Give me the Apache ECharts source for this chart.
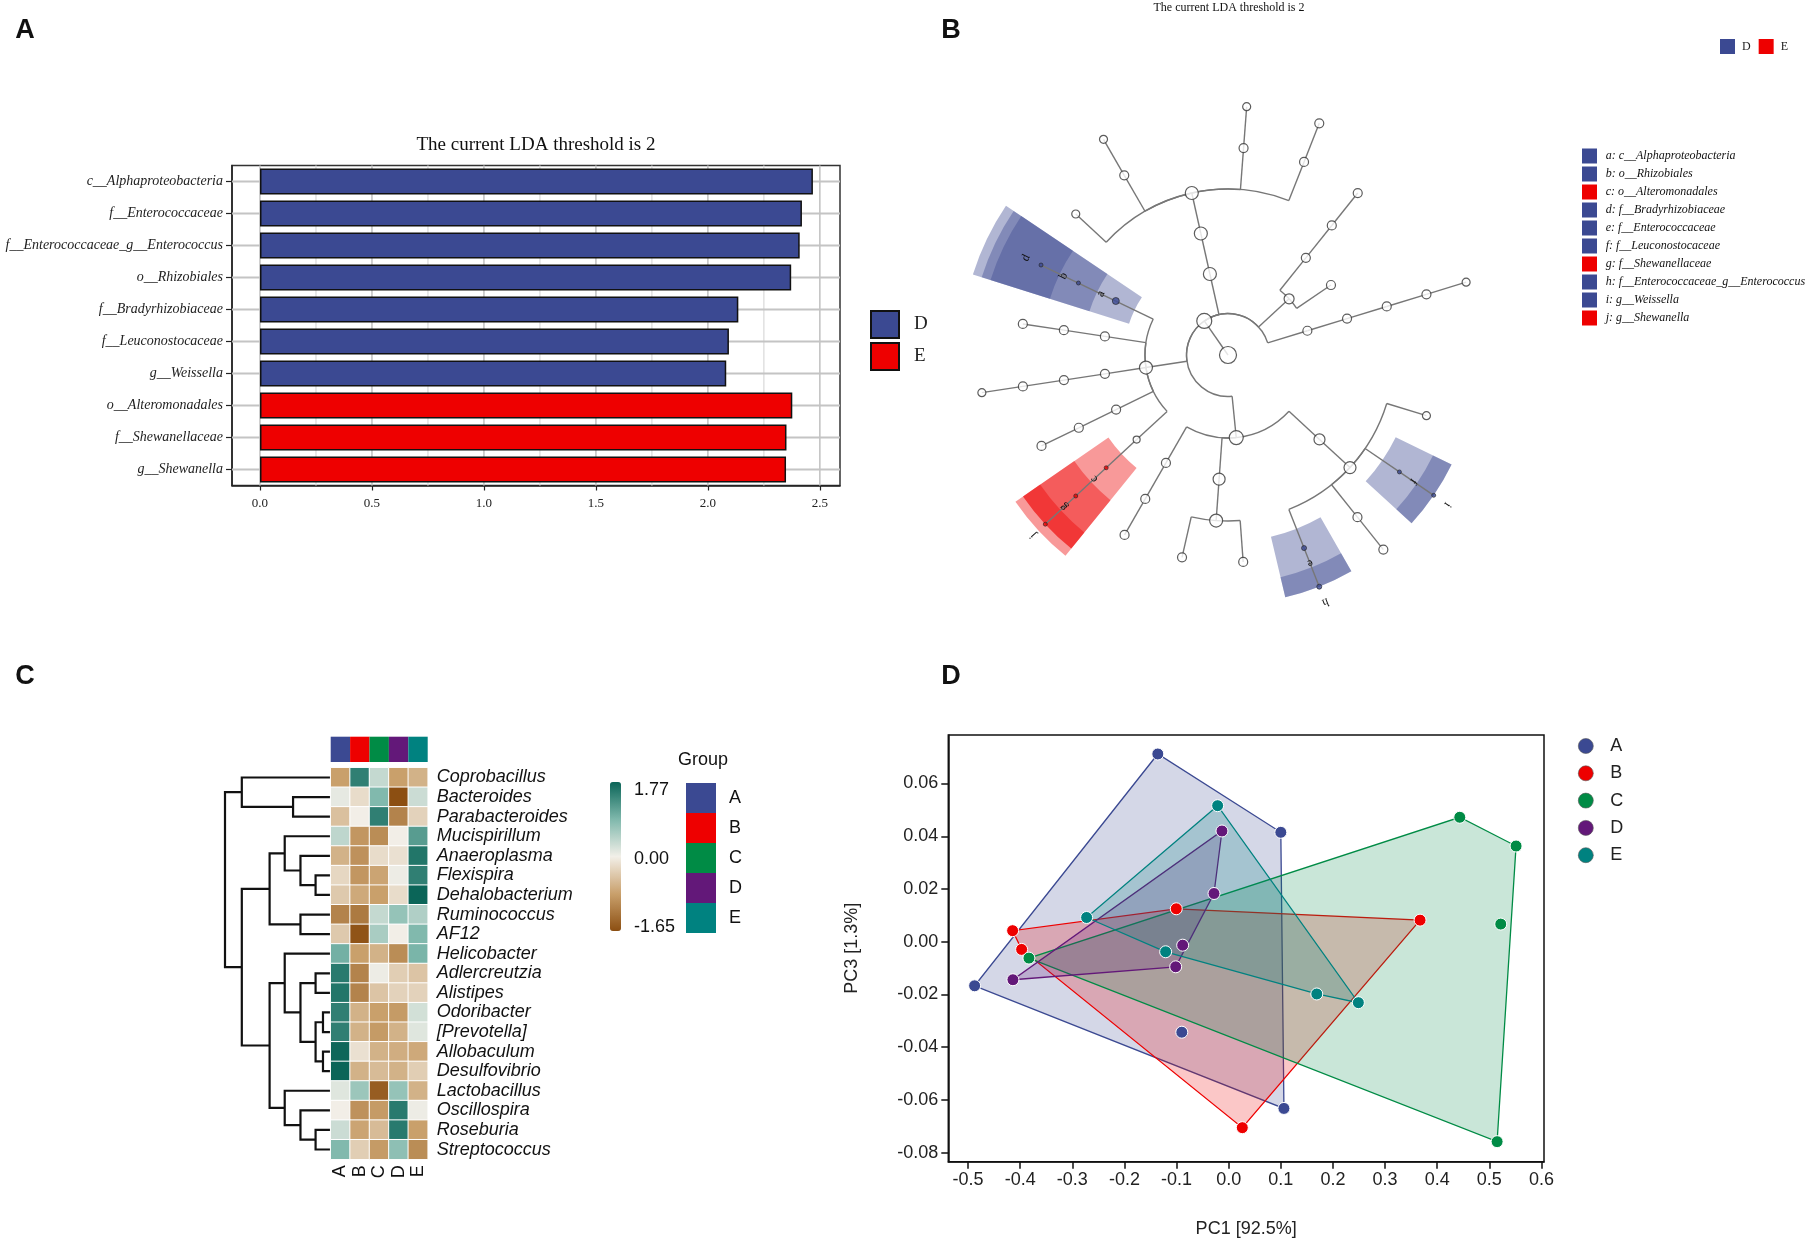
<!DOCTYPE html>
<html><head><meta charset="utf-8">
<script src="https://cdn.jsdelivr.net/npm/echarts@6/dist/echarts.min.js"></script>
<style>html,body{margin:0;padding:0;background:#fff}#c{width:1814px;height:1243px}</style>
</head><body><div id="c"></div>
<script>
// ---------- Panel A : LDA bars ----------
const ldaCategories = ['c__Alphaproteobacteria','f__Enterococcaceae','f__Enterococcaceae_g__Enterococcus','o__Rhizobiales','f__Bradyrhizobiaceae','f__Leuconostocaceae','g__Weissella','o__Alteromonadales','f__Shewanellaceae','g__Shewanella'];
const ldaValues = [2.469, 2.420, 2.410, 2.372, 2.136, 2.094, 2.082, 2.377, 2.351, 2.349];
const ldaGroups = ['D','D','D','D','D','D','D','E','E','E'];
const ldaTicks = [0, 0.5, 1, 1.5, 2, 2.5];
const ldaMinorTicks = [0.25, 0.75, 1.25, 1.75, 2.25];

// ---------- Panel B : cladogram ----------
const cladeLetters = ['a','b','c','d','e','f','g','h','i','j'];
const cladeNames = ['c__Alphaproteobacteria','o__Rhizobiales','o__Alteromonadales','f__Bradyrhizobiaceae','f__Enterococcaceae','f__Leuconostocaceae','f__Shewanellaceae','f__Enterococcaceae_g__Enterococcus','g__Weissella','g__Shewanella'];
const cladeGroups = ['D','D','E','D','D','D','E','D','D','E'];
const treeLevel  = [0,1, 2,3,4,5,6, 2,3,4,5,3, 2,3,4,5,5,6,5,6,5,6, 2,3,4,5,3,4,5,3,4,5,6,3,4,5,3,4,5,6, 2,3,4,5,3,4,5,5,3,4,5,6,5,6,5,6,5];
const treeAngle  = [0,124.9, 17,17,17,17,17, 42.6,51.3,51.3,51.3,34.2, 102.6,102.6,102.6,137.2,120,120,85.7,85.7,68.5,68.5,
  188.7,154.3,154.3,154.3,171.4,171.4,171.4,188.7,188.7,188.7,188.7,206,206,206,222.8,222.8,222.8,222.8,
  275.7,240.1,240.1,240.1,265.9,265.9,257.2,274.2,317.3,317.3,291.5,291.5,308.6,308.6,325.7,325.7,343];
const treeParent = [-1,0, 1,2,3,4,5, 1,7,8,9,7, 1,12,13,14,14,16,14,18,14,20,
  1,22,23,24,22,26,27,22,29,30,31,22,33,34,22,36,37,38,
  1,40,41,42,40,44,45,45,40,48,49,50,49,52,49,54,49];
const treeSize   = [17,15, 9,9,9,9,8, 10,9,9,9,9, 13,13,13,8,9,8,9,8,9,9,
  13,7,4,4,9,9,9,9,9,9,8,9,9,9,7,4,4,4,
  14,9,9,9,12,13,9,9,11,12,5,5,9,9,4,4,8];
const treeClade  = ['','', '','','','','', '','','','','', '','','','','','','','','','',
  '','a','b','d','','','','','','','','','','','','c','g','j',
  '','','','','','','','','','','e','h','','','f','i',''];

// ---------- Panel C : heatmap ----------
const heatGenera = ['Coprobacillus','Bacteroides','Parabacteroides','Mucispirillum','Anaeroplasma','Flexispira','Dehalobacterium','Ruminococcus','AF12','Helicobacter','Adlercreutzia','Alistipes','Odoribacter','[Prevotella]','Allobaculum','Desulfovibrio','Lactobacillus','Oscillospira','Roseburia','Streptococcus'];
const heatGroups = ['A','B','C','D','E'];
const heatValues = [
 [-0.80, 1.50, 0.40, -0.80, -0.60],
 [ 0.15,-0.15, 0.90, -1.65,  0.35],
 [-0.45, 0.05, 1.50, -1.10, -0.25],
 [ 0.45,-0.90,-1.00,  0.05,  1.20],
 [-0.60,-0.95,-0.15, -0.10,  1.60],
 [-0.20,-0.90,-0.75,  0.10,  1.50],
 [-0.35,-0.70,-0.80, -0.15,  1.77],
 [-1.10,-1.20, 0.40,  0.75,  0.55],
 [-0.35,-1.60, 0.60,  0.05,  0.90],
 [ 1.00,-0.80,-0.60, -1.00,  0.95],
 [ 1.55,-1.10, 0.10, -0.30, -0.40],
 [ 1.60,-1.10,-0.40, -0.25, -0.25],
 [ 1.50,-0.60,-0.80, -0.85,  0.30],
 [ 1.50,-0.60,-0.85, -0.60,  0.20],
 [ 1.75,-0.10,-0.60, -0.65, -0.70],
 [ 1.77,-0.60,-0.50, -0.60, -0.30],
 [ 0.20, 0.70,-1.50,  0.75, -0.60],
 [ 0.05,-0.95,-0.85,  1.55,  0.10],
 [ 0.35,-0.75,-0.50,  1.55, -0.80],
 [ 0.90,-0.30,-0.85,  0.80, -1.00]
];
const heatRange = [-1.65, 1.77];
const heatScaleLabels = [1.77, 0.00, -1.65];
// dendrogram merges: [childA, childB, height]; leaves 0..19, merged clusters 20..
const dendroMerges = [
 [1,2,3.56],[0,20,8.41],[5,6,1.43],[4,22,2.86],[3,23,4.35],[7,8,2.86],[24,25,5.78],
 [10,11,1.43],[12,13,0.73],[14,15,0.73],[28,29,1.43],[27,30,2.86],[9,31,4.35],
 [18,19,1.43],[17,33,2.86],[16,34,4.35],[32,35,5.78],[26,36,8.41],[21,37,10]
];

// ---------- Panel D : PCoA ----------
const pcoaGroups = ['A','B','C','D','E'];
const pcoaA = [[-0.136,0.0712],[0.100,0.0415],[0.106,-0.0632],[-0.4875,-0.0167],[-0.090,-0.0343]];
const pcoaB = [[-0.4146,0.0042],[-0.3973,-0.0029],[-0.1006,0.0125],[0.0261,-0.0705],[0.3672,0.0082]];
const pcoaC = [[-0.3833,-0.0062],[0.4434,0.0472],[0.5514,0.0363],[0.5220,0.0067],[0.5150,-0.0758]];
const pcoaD = [[-0.0129,0.0420],[-0.0282,0.0183],[-0.0883,-0.0013],[-0.1017,-0.0095],[-0.4140,-0.0144]];
const pcoaE = [[-0.0212,0.0516],[-0.2726,0.0092],[-0.1210,-0.0038],[0.1690,-0.0198],[0.2488,-0.0231]];
const pcoaXTicks = [-0.5,-0.4,-0.3,-0.2,-0.1,0,0.1,0.2,0.3,0.4,0.5,0.6];
const pcoaYTicks = [-0.08,-0.06,-0.04,-0.02,0,0.02,0.04,0.06];

// ---------- styles ----------
const SERIF = 'Liberation Serif', SANS = 'Liberation Sans';
const groupColor = {A:'#3B4992', B:'#EE0000', C:'#008B45', D:'#631879', E:'#008280'};
const ldaColor = {D:'#3B4992', E:'#EE0000'};
const sectorFill = {D:'rgba(59,73,146,0.40)', E:'rgba(238,0,0,0.40)'};
const hullFill = {A:'rgba(59,73,146,0.22)', B:'rgba(238,0,0,0.22)', C:'rgba(0,139,69,0.21)', D:'rgba(99,24,121,0.22)', E:'rgba(0,130,128,0.22)'};

function convexHull(pts){
  const p = pts.slice().sort((a,b)=>a[0]-b[0]||a[1]-b[1]);
  const cr=(o,a,b)=>(a[0]-o[0])*(b[1]-o[1])-(a[1]-o[1])*(b[0]-o[0]);
  const lo=[],up=[];
  for(const q of p){while(lo.length>=2&&cr(lo[lo.length-2],lo[lo.length-1],q)<=0)lo.pop();lo.push(q);}
  for(let i=p.length-1;i>=0;i--){const q=p[i];while(up.length>=2&&cr(up[up.length-2],up[up.length-1],q)<=0)up.pop();up.push(q);}
  lo.pop();up.pop();return lo.concat(up);
}

// dendrogram geometry from merges
const clusterY = heatGenera.map((_,i)=>i), clusterH = heatGenera.map(()=>0);
const dendroData = dendroMerges.map(m=>{
  const [a,b,h]=m; const yA=clusterY[a], yB=clusterY[b];
  clusterY.push((yA+yB)/2); clusterH.push(h);
  return [h, yA, yB, clusterH[a], clusterH[b]];
});

// cladogram data
const edgeData = [], nodeData = [], cladeData = [];
treeLevel.forEach((l,i)=>{
  const c = treeClade[i];
  const ci = c ? cladeLetters.indexOf(c) : -1;
  nodeData.push({value:[l, treeAngle[i]], symbolSize: treeSize[i],
    itemStyle: ci>=0 ? {color: ldaColor[cladeGroups[ci]], borderColor:'#222', borderWidth:0.8}
                     : {color:'#fff', borderColor:'#333', borderWidth:1.2}});
  if (treeParent[i] >= 0) { const p = treeParent[i]; edgeData.push([l, treeAngle[i], treeLevel[p], treeAngle[p]]); }
  if (ci >= 0) cladeData.push([l, treeAngle[i], cladeGroups[ci]==='D'?0:1, ci]);
});
const rad = d=>d*Math.PI/180;

const series = [];
// A grid lines (behind bars)
const ldaGridData = ldaTicks.map(v=>[v,0,0]).concat(ldaMinorTicks.map(v=>[v,0,1]));
series.push({type:'custom', xAxisIndex:0, yAxisIndex:0, silent:true, z:1, data:ldaGridData,
  renderItem:(params, api)=>{
    const cs = params.coordSys; const p = api.coord([api.value(0), 0]);
    return {type:'line', shape:{x1:p[0], y1:cs.y, x2:p[0], y2:cs.y+cs.height},
      style:{stroke: api.value(2)===0 ? '#c4c4c4' : '#dcdcdc', lineWidth: api.value(2)===0 ? 1.6 : 1.3}};
  }});
series.push({type:'custom', xAxisIndex:0, yAxisIndex:0, silent:true, z:1, data:ldaCategories.map((c,i)=>[0,i]),
  renderItem:(params, api)=>{
    const cs = params.coordSys; const p = api.coord([0, api.value(1)]);
    return {type:'line', shape:{x1:cs.x, y1:p[1], x2:cs.x+cs.width, y2:p[1]}, style:{stroke:'#c4c4c4', lineWidth:1.8}};
  }});
// A bars
['D','E'].forEach(g=>{
  series.push({name:'lda-'+g, type:'bar', xAxisIndex:0, yAxisIndex:0, stack:'lda', barWidth:26,
    data: ldaValues.map((v,i)=>ldaGroups[i]===g?v:'-'),
    itemStyle:{color:ldaColor[g], borderColor:'#111', borderWidth:1.5}, z:3});
});
// B sectors
series.push({type:'custom', coordinateSystem:'polar', polarIndex:0, silent:true, z:1, data:cladeData,
  renderItem:(params, api)=>{
    const cs = params.coordSys; const L = api.value(0), a = api.value(1), g = api.value(2);
    const pin = api.coord([L-0.5, a]), pout = api.coord([6 + Math.max(0,5-L)*0.223, a]);
    const r0 = Math.hypot(pin[0]-cs.cx, pin[1]-cs.cy), r = Math.hypot(pout[0]-cs.cx, pout[1]-cs.cy);
    return {type:'sector', shape:{cx:cs.cx, cy:cs.cy, r0, r, startAngle:-rad(a+8.2), endAngle:-rad(a-8.2), clockwise:true},
      style:{fill: g===0?sectorFill.D:sectorFill.E}};
  }});
// B edges
series.push({type:'custom', coordinateSystem:'polar', polarIndex:0, silent:true, z:2, data:edgeData,
  renderItem:(params, api)=>{
    const cs = params.coordSys; const L=api.value(0), a=api.value(1), pL=api.value(2), pa=api.value(3);
    const p1 = api.coord([pL, a]), p2 = api.coord([L, a]);
    const ch = [{type:'line', shape:{x1:p1[0],y1:p1[1],x2:p2[0],y2:p2[1]}, style:{stroke:'#777', lineWidth:1.4}}];
    if (pL > 0 && Math.abs(a-pa) > 0.01) {
      const r = Math.hypot(p1[0]-cs.cx, p1[1]-cs.cy);
      const a1 = Math.min(a,pa), a2 = Math.max(a,pa);
      ch.push({type:'arc', shape:{cx:cs.cx, cy:cs.cy, r, startAngle:-rad(a2), endAngle:-rad(a1), clockwise:true},
        style:{stroke:'#777', fill:null, lineWidth:1.4}});
    }
    return {type:'group', children:ch};
  }});
// B nodes
series.push({type:'scatter', coordinateSystem:'polar', polarIndex:0, silent:true, z:3, symbol:'circle', data:nodeData});
// B clade letters
series.push({type:'custom', coordinateSystem:'polar', polarIndex:0, silent:true, z:4, data:cladeData,
  renderItem:(params, api)=>{
    const L=api.value(0), a=api.value(1), ci=api.value(3);
    const p = api.coord([L+0.4, a]);
    return {type:'text', x:p[0], y:p[1], rotation:rad(a-90),
      style:{text:cladeLetters[ci], fontFamily:SERIF, fontSize:12, fill:'#111', align:'center', verticalAlign:'middle'}};
  }});
// C dendrogram
series.push({type:'custom', xAxisIndex:1, yAxisIndex:1, silent:true, data:dendroData,
  renderItem:(params, api)=>{
    const h=api.value(0), yA=api.value(1), yB=api.value(2), hA=api.value(3), hB=api.value(4);
    return {type:'polyline', shape:{points:[api.coord([hA,yA]),api.coord([h,yA]),api.coord([h,yB]),api.coord([hB,yB])]},
      style:{stroke:'#111', lineWidth:2.2, fill:null}};
  }});
// C heatmap
const heatIndex = series.length;
const heatData = [];
heatValues.forEach((row,r)=>row.forEach((v,c)=>heatData.push([c,r,v])));
series.push({type:'heatmap', xAxisIndex:2, yAxisIndex:2, data:heatData, silent:true,
  itemStyle:{borderColor:'#fff', borderWidth:1}});
// C group header
series.push({type:'bar', xAxisIndex:3, yAxisIndex:3, barCategoryGap:'0%', silent:true,
  data: heatGroups.map(g=>({value:1, itemStyle:{color:groupColor[g]}}))});
// D hulls + points
const pcoaSets = {A:pcoaA, B:pcoaB, C:pcoaC, D:pcoaD, E:pcoaE};
pcoaGroups.forEach(g=>{
  const hull = convexHull(pcoaSets[g]);
  series.push({type:'custom', xAxisIndex:4, yAxisIndex:4, silent:true, z:2, data:hull,
    renderItem:(params, api)=>{
      if (params.dataIndex !== 0) return;
      return {type:'polygon', shape:{points:hull.map(p=>api.coord(p))},
        style:{fill:hullFill[g], stroke:groupColor[g], lineWidth:1.3}};
    }});
});
pcoaGroups.forEach(g=>{
  series.push({name:g, type:'scatter', xAxisIndex:4, yAxisIndex:4, z:5, symbolSize:12, data:pcoaSets[g],
    itemStyle:{color:groupColor[g], borderColor:'#fff', borderWidth:1, opacity:1}});
});

// graphic texts / legend list
const graphic = [];
const txt = (x,y,text,font,align='center',fill='#111')=>({type:'text', x, y, silent:true,
  style:{text, font, fill, align, verticalAlign:'middle'}});
graphic.push(txt(25,31,'A',`bold 27px "${SANS}"`));
graphic.push(txt(951,31,'B',`bold 27px "${SANS}"`));
graphic.push(txt(25,677,'C',`bold 27px "${SANS}"`));
graphic.push(txt(951,677,'D',`bold 27px "${SANS}"`));
graphic.push(txt(536,145,'The current LDA threshold is 2',`19px "${SERIF}"`));
graphic.push(txt(1229,8,'The current LDA threshold is 2',`12px "${SERIF}"`));
cladeLetters.forEach((l,i)=>{
  graphic.push({type:'rect', silent:true, shape:{x:1582, y:148.5+i*18, width:15, height:15}, style:{fill:ldaColor[cladeGroups[i]]}});
  graphic.push(txt(1605.7,156+i*18, l+': '+cladeNames[i], `italic 12px "${SERIF}"`,'left','#111'));
});
graphic.push(txt(703,760,'Group',`18px "${SANS}"`));
const cbTop = 782, cbH = 149;
heatScaleLabels.forEach(v=>{
  let y = cbTop + (heatRange[1]-v)/(heatRange[1]-heatRange[0])*cbH;
  y = Math.min(Math.max(y, cbTop+8), cbTop+cbH-4);
  graphic.push(txt(634, y, v.toFixed(2), `18px "${SANS}"`, 'left', '#111'));
});

const option = {
  backgroundColor:'#fff',
  animation:false,
  graphic,
  grid:[
    {left:232, top:165.5, width:608, height:320, show:true, borderColor:'#333', borderWidth:1.5, outerBoundsMode:'none'},
    {left:225, top:767.7, width:105.7, height:391.6, outerBoundsMode:'none'},
    {left:330.7, top:767.7, width:97, height:391.6, outerBoundsMode:'none'},
    {left:330.7, top:736.7, width:97, height:25.3, outerBoundsMode:'none'},
    {left:948.3, top:735, width:595.7, height:426.7, show:true, borderColor:'#111', borderWidth:1.5, outerBoundsMode:'none'}
  ],
  polar:{center:[1228,355], radius:290.5},
  radiusAxis:{polarIndex:0, type:'value', min:0, max:7, show:false},
  angleAxis:{polarIndex:0, type:'value', min:0, max:360, startAngle:0, clockwise:false, show:false},
  xAxis:[
    {gridIndex:0, type:'value', min:-0.125, max:2.59, interval:0.125,
      axisLine:{show:true, onZero:false, lineStyle:{color:'#222', width:1.5}},
      axisTick:{show:true, customValues:ldaTicks, length:5, lineStyle:{color:'#222', width:1.2}},
      axisLabel:{customValues:ldaTicks, margin:12, fontFamily:SERIF, fontSize:13, color:'#222',
        formatter:v=>(v>=0 && Math.abs(v*2-Math.round(v*2))<1e-6)?v.toFixed(1):''},
      splitLine:{show:false}},
    {gridIndex:1, type:'value', min:0, max:10, inverse:true, show:false},
    {gridIndex:2, type:'category', data:heatGroups, position:'bottom',
      axisLine:{show:false}, axisTick:{show:false}, splitLine:{show:false},
      axisLabel:{interval:0, rotate:90, margin:6, fontFamily:SANS, fontSize:18, color:'#111'}},
    {gridIndex:3, type:'category', data:heatGroups, show:false},
    {gridIndex:4, type:'value', min:-0.538, max:0.605,
      axisLine:{show:true, onZero:false, lineStyle:{color:'#111', width:1.5}},
      axisTick:{show:true, customValues:pcoaXTicks, length:7, lineStyle:{color:'#111', width:1.5}},
      axisLabel:{customValues:pcoaXTicks, margin:9, fontFamily:SANS, fontSize:18, color:'#222', formatter:v=>v.toFixed(1)},
      splitLine:{show:false},
      name:'PC1 [92.5%]', nameLocation:'middle', nameGap:58, nameTextStyle:{fontFamily:SANS, fontSize:18, color:'#222'}}
  ],
  yAxis:[
    {gridIndex:0, type:'category', data:ldaCategories, inverse:true,
      axisLine:{show:true, onZero:false, lineStyle:{color:'#222', width:1.5}},
      axisTick:{show:true, alignWithLabel:true, length:6, lineStyle:{color:'#222', width:1.2}},
      axisLabel:{interval:0, margin:9, fontFamily:SERIF, fontStyle:'italic', fontSize:14, color:'#222'},
      splitLine:{show:false}},
    {gridIndex:1, type:'value', min:-0.5, max:19.5, inverse:true, show:false},
    {gridIndex:2, type:'category', data:heatGenera, inverse:true, position:'right',
      axisLine:{show:false}, axisTick:{show:false}, splitLine:{show:false},
      axisLabel:{interval:0, margin:9, fontFamily:SANS, fontStyle:'italic', fontSize:18, color:'#111'}},
    {gridIndex:3, type:'value', min:0, max:1, show:false},
    {gridIndex:4, type:'value', min:-0.0834, max:0.0784,
      axisLine:{show:true, onZero:false, lineStyle:{color:'#111', width:1.5}},
      axisTick:{show:true, customValues:pcoaYTicks, length:7, lineStyle:{color:'#111', width:1.5}},
      axisLabel:{customValues:pcoaYTicks, margin:10, fontFamily:SANS, fontSize:18, color:'#222', formatter:v=>v.toFixed(2)},
      splitLine:{show:false},
      name:'PC3 [1.3%]', nameLocation:'middle', nameGap:87, nameRotate:90, nameTextStyle:{fontFamily:SANS, fontSize:18, color:'#222'}}
  ],
  visualMap:[{type:'continuous', seriesIndex:heatIndex, dimension:2, min:heatRange[0], max:heatRange[1],
    show:true, calculable:false, orient:'vertical', left:610, top:782, itemWidth:11, itemHeight:149, padding:0,
    text:null, inRange:{color:['#8C4F12','#C9A06C','#F2EFE8','#7FB8AC','#0B6558']}}],
  legend:[
    {data:['lda-D','lda-E'], formatter:n=>n.slice(4), left:870, top:310, orient:'vertical', icon:'rect',
      itemWidth:28, itemHeight:27, itemGap:3, padding:0, selectedMode:false,
      textStyle:{fontFamily:SERIF, fontSize:19, color:'#222', padding:[0,0,0,10]}},
    {data:['lda-D','lda-E'], formatter:n=>n.slice(4), left:1720, top:39, orient:'horizontal', icon:'rect',
      itemWidth:15, itemHeight:15, itemGap:8, padding:0, selectedMode:false,
      itemStyle:{borderWidth:0},
      textStyle:{fontFamily:SERIF, fontSize:12, color:'#222', padding:[0,0,0,2]}},
    {data:heatGroups, left:686, top:783, orient:'vertical', icon:'rect', itemWidth:30, itemHeight:30, itemGap:0,
      padding:0, selectedMode:false, itemStyle:{borderWidth:0},
      textStyle:{fontFamily:SANS, fontSize:18, color:'#111', padding:[0,0,0,8]}},
    {data:pcoaGroups, left:1578, top:737, orient:'vertical', icon:'circle', itemWidth:15, itemHeight:15, itemGap:9.3,
      padding:0, selectedMode:false, itemStyle:{borderColor:'#555', borderWidth:0.6},
      textStyle:{fontFamily:SANS, fontSize:18, color:'#222', padding:[0,0,0,12]}}
  ],
  series
};
const chart = echarts.init(document.getElementById('c'), null, {width:1814, height:1243});
chart.setOption(option);
</script>
</body></html>
